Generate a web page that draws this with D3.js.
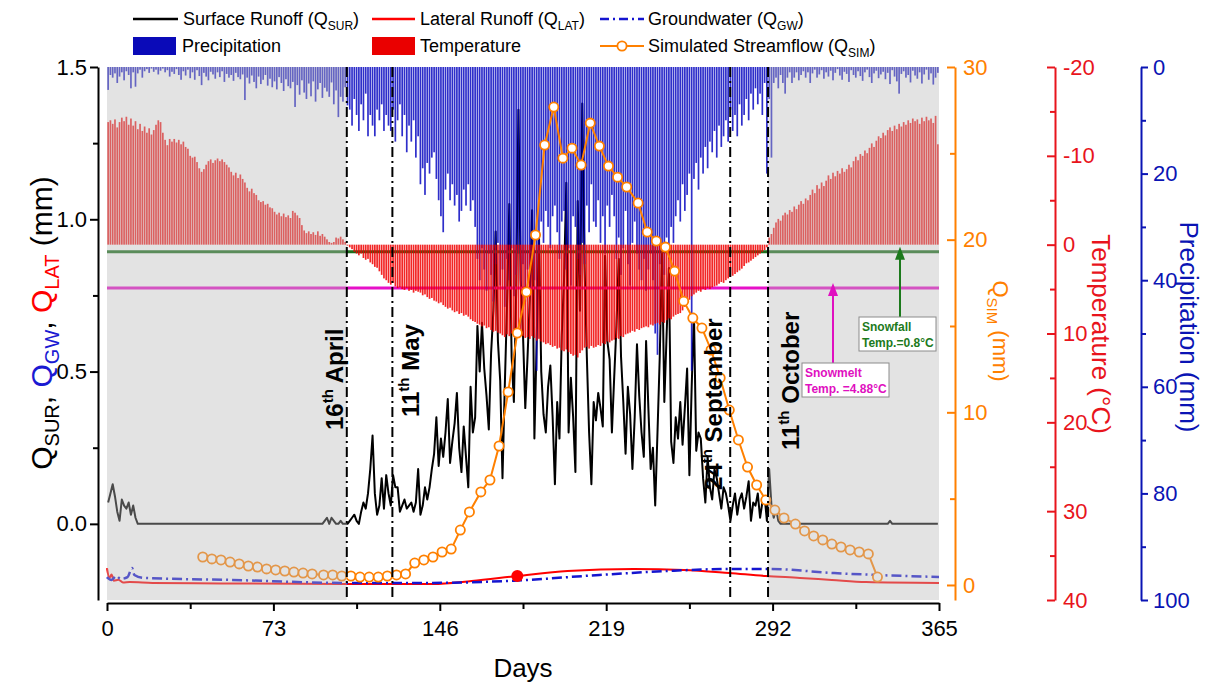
<!DOCTYPE html>
<html>
<head>
<meta charset="utf-8">
<script src="https://cdn.jsdelivr.net/npm/d3@7"></script>
<style>
  body { margin: 0; background: #fff; }
  svg { font-family: Arial, "Liberation Sans", sans-serif; }
</style>
</head>
<body>
<svg width="1213" height="686"></svg>
<script>
// ---- daily data (index 0 = day 1) ----
const precip = [
  4.3,1.5,2,1.2,3,1.8,1,2.5,0.8,1.5,4,
  1,3.7,1.2,0.5,2,0.8,0.4,1.1,0.3,0.9,
  0.5,1.4,0.7,0.3,1,0.6,1.8,0.9,1.3,0.4,
  1.5,2.4,0.8,1.6,0.5,2.1,1,2.4,0.6,1.7,
  3.4,1.1,1.8,2.5,0.9,1.4,2.2,1,1.9,0.8,
  2.8,1.3,2,1.5,2.6,1.1,1.9,2.3,1.4,6.2,
  2,3.1,1.6,2.8,4,1.8,3.2,2.4,1.5,3.5,
  2.2,3.8,2.7,4.2,1.9,3,4.5,2.3,3.6,4,
  2.8,7.5,3.4,5.2,2.5,4.8,6,3.1,5.5,2.7,
  6.5,4.2,3,5.8,3.9,4.6,5.6,2.9,7,4.4,
  9.4,5.6,6.5,3.8,7.2,
  8,11,6,9,12,7,10,5,13,9,11,13,8,10,7,12,9,11,12,8,14,10,7,13,9,16,11,14,10,17,13,
  22,19,24,18,20,17,16,21,25,28,31,23,20,25,22,26,24,29,27,23,26,22,27,25,30,
  36,40,34,38,42,35,39,44,37,33,
  41,38,45,36,40,34,43,39,35,41,
  37,44,38,42,36,40,57,35,29,33,
  27,30,34,28,26,31,36,29,27,38,
  34,41,28,30,36,39,33,37,26,31,
  22,29,30,25,33,28,35,26,30,24,
  28,36,32,39,34,27,37,41,33,29,
  35,38,40,36,42,38,35,40,50,54,
  37,34,39,32,36,30,33,28,25,29,
  22,27,24,20,57,21,18,23,17,20,
  15,19,14,16,12,17,11,15,13,10,
  14,8,12,9,13,7,11,9,6,10,
  5,8,4,7,5,9,3,20,6,
  17,3,2,4,1.5,3,5,2,1,3,
  2,1,2.5,1.5,0.8,2,1,3,1.2,0.5,
  2,1.4,0.6,2.2,1,1.8,0.7,2.5,1.1,0.4,
  1.6,2.4,0.9,1.3,2.8,0.6,1.5,2,0.8,1.7,
  2.6,1,0.5,1.9,3,1.2,0.7,2.1,1.4,0.9,
  2.3,1.1,3.2,0.6,1.8,2.7,5,1.3,0.8,2,
  1.5,2.9,0.7,1.6,2.2,1,3.1,1.4,0.5,2.4,
  1.2,3.3,2,1.1
];

const temperature = [
  -13.8,-14.0,-13.6,-14.1,-13.2,-13.8,-14.3,-13.9,-14.4,-13.5,
  -14.2,-13.4,-13.9,-13.0,-13.6,-12.8,-13.3,-12.6,-13.1,-12.4,
  -12.9,-13.5,-14.0,-13.8,-12.6,-11.8,-11.2,-11.9,-11.6,-11.9,
  -11.5,-11.8,-11.3,-11.6,-11.0,-10.8,-10.0,-9.8,-9.9,-9.3,
  -8.6,-8.2,-8.5,-9.0,-9.4,-9.6,-9.2,-9.5,-9.7,-9.4,
  -9.6,-9.3,-9.0,-8.7,-8.2,-7.8,-8.1,-7.5,-7.9,-7.4,
  -7.0,-6.4,-6.0,-6.3,-5.8,-5.6,-5.0,-4.8,-4.9,-4.5,
  -4.6,-4.2,-4.1,-3.7,-3.4,-3.6,-3.2,-3.5,-3.1,-3.3,
  -3.0,-3.8,-3.6,-3.3,-3.0,-2.2,-1.6,-1.3,-1.5,-1.2,
  -1.4,-1.1,-1.5,-1.0,-1.2,-0.9,-0.6,-0.3,-0.2,-0.3,
  -0.8,-0.7,-0.9,-0.6,-0.3,0.1,
  0.3,0.5,0.8,1.0,1.2,1.0,1.5,1.7,1.6,2.0,
  2.2,2.5,2.6,3.0,3.4,3.8,4.0,4.3,4.5,4.3,
  4.7,4.9,4.8,5.0,5.1,4.9,5.2,5.1,5.4,5.2,
  5.3,5.4,5.7,5.6,5.9,6.1,6.0,6.3,6.4,6.6,
  6.5,6.8,7.0,7.2,7.1,7.4,7.6,7.5,7.8,7.7,
  8.0,7.9,8.1,8.4,8.6,8.7,8.9,9.0,9.2,9.1,
  9.4,9.3,9.6,9.8,9.7,9.9,10.0,10.2,10.4,10.1,
  10.3,10.0,9.9,10.2,10.0,9.9,10.3,10.5,10.4,10.6,
  10.3,10.5,10.8,10.6,10.9,11.0,11.2,11.1,11.3,11.5,
  11.4,11.7,11.6,11.9,12.0,11.8,12.1,12.3,12.5,12.4,
  12.7,12.2,11.9,11.6,11.5,11.7,11.4,11.6,11.5,11.3,
  11.4,11.1,11.2,10.9,11.0,10.8,10.7,10.5,10.6,10.3,
  10.4,10.1,10.0,9.9,9.7,9.8,9.5,9.6,9.4,9.3,
  9.2,9.3,9.0,9.1,8.9,8.8,9.0,8.7,8.8,8.5,
  8.3,8.4,8.1,7.9,7.8,7.7,7.4,7.0,6.6,6.2,
  5.8,5.6,5.4,5.2,5.3,5.0,5.1,4.9,5.0,4.8,
  4.7,4.6,4.4,4.2,4.3,4.0,3.8,3.6,3.5,3.3,
  3.1,2.9,2.7,2.4,2.1,2.0,1.8,1.6,1.4,1.2,
  1.0,0.8,0.6,0.3,
  -0.8,-1.2,-1.9,-2.5,-2.9,-2.7,-3.3,-3.6,-3.4,-3.9,
  -3.7,-4.3,-4.0,-4.5,-4.9,-4.6,-5.2,-5.0,-5.6,-6.2,
  -5.8,-6.7,-6.3,-7.0,-6.6,-7.2,-7.8,-7.4,-8.1,-7.7,
  -8.3,-8.0,-8.6,-8.2,-8.5,-9.0,-8.7,-9.4,-9.9,-9.5,
  -10.2,-10.0,-10.6,-10.3,-10.9,-11.4,-11.0,-11.7,-12.2,-12.0,
  -12.6,-12.3,-12.9,-13.2,-12.8,-13.4,-13.0,-13.6,-13.3,-13.8,
  -13.5,-14.0,-13.7,-14.2,-13.9,-14.1,-13.6,-14.3,-13.9,-14.4,
  -14.0,-14.2,-13.7,-14.5,-11.3
];

const qSur = [
  0.07,0.10,0.13,0.09,0.04,0.01,0.08,0.06,0.05,0.07,0.03,0.06,0.02,
  0,0,0,0,0,0,0,0,0,0,
  0,0,0,0,0,0,0,0,0,0,
  0,0,0,0,0,0,0,0,0,0,
  0,0,0,0,0,0,0,0,0,0,
  0,0,0,0,0,0,0,0,0,0,
  0,0,0,0,0,0,0,0,0,0,
  0,0,0,0,0,0,0,0,0,0,
  0,0,0,0,0,0,0,0,0,0,
  0,0,
  0.01,0.02,0.00,0.02,0.01,0.00,0.00,0.01,0.00,0.00,0.00,
  0.01,0.02,0.03,0.01,0.00,0.04,0.07,0.05,0.10,0.18,0.29,0.10,0.03,0.06,0.15,0.05,
  0.16,0.10,0.06,0.16,0.12,0.12,0.04,0.06,0.08,0.05,0.06,0.07,0.04,0.07,0.18,
  0.03,0.06,0.12,0.08,0.12,0.18,0.23,0.35,0.19,0.28,0.22,0.30,0.41,0.20,0.27,0.33,
  0.43,0.25,0.17,0.32,0.22,0.12,0.45,0.30,0.35,0.65,0.50,0.66,0.51,0.42,0.31,0.56,
  0.70,0.96,0.60,0.47,0.15,0.45,0.72,1.05,0.55,0.40,0.76,1.36,0.80,0.62,0.38,0.55,
  0.74,1.03,0.28,0.60,0.95,0.50,0.36,0.30,0.45,0.52,0.35,0.13,0.40,0.28,0.62,0.80,
  1.12,0.30,0.48,0.35,0.17,1.06,0.70,1.38,0.85,0.55,0.30,0.13,0.40,0.34,0.43,0.38,
  0.32,0.88,0.60,0.54,0.30,0.48,0.65,0.87,0.55,0.40,0.23,0.45,0.36,0.18,0.35,0.59,
  0.42,0.30,0.22,0.60,0.38,0.18,0.25,0.06,0.30,0.55,0.89,0.40,0.62,0.84,0.27,0.20,
  0.35,0.28,0.40,0.26,0.38,0.51,0.16,0.45,0.69,0.24,0.30,0.28,0.15,0.07,0.22,0.12,
  0.08,0.18,0.15,0.10,0.05,0.12,0.10,0.06,0.01,0.06,0.10,0.03,0.08,0.10,0.05,0.09,
  0.14,0.01,0.07,0.06,0.10,0.02,0.07,0.09,0.01,0.18,
  0.06,0.02,0.05,0.01,
  0,0,0,0,0,0,0,0,0,0,
  0,0,0,0,0,0,0,0,0,0,
  0,0,0,0,0,0,0,0,0,0,
  0,0,0,0,0,0,0,0,0,0,
  0,0,0,0,0,0,0,0,0.01,0,
  0,0,0,0,0,0,0,0,0,0,
  0,0,0,0,0,0,0,0,0,0
];

// simulated streamflow (every ~4 days)
const qsimDays = [42,46,50,54,58,62,66,70,74,78,82,86,90,95,99,103,107,111,115,119,123,127,131,135,139,143,147,151,155,159,
  164,168,172,176,180,184,188,192,196,200,204,208,212,216,220,224,228,233,237,241,245,249,253,257,261,265,269,273,277,281,
  285,289,293,297,302,306,310,314,318,322,326,330,334,338];
const qsimVals = [1.62,1.51,1.45,1.33,1.22,1.10,1.04,0.93,0.87,0.81,0.75,0.69,0.64,0.58,0.58,0.52,0.52,0.46,0.46,0.46,
  0.52,0.58,0.64,1.27,1.45,1.62,1.91,2.08,3.18,4.23,5.39,6.08,8.05,11.18,14.59,16.97,20.27,25.48,27.68,24.72,
  25.30,24.32,26.75,25.42,24.26,23.62,23.05,22.12,20.44,19.92,19.57,18.18,16.44,15.46,14.88,13.61,11.99,10.13,8.40,6.83,
  5.79,4.92,4.34,3.88,3.53,3.13,2.84,2.61,2.37,2.20,2.03,1.91,1.80,0.46];

// lateral runoff and groundwater (mm)
const latDays = [0,1,2,3,5,7,10,20,50,105,143,160,180,202,231,253,273,289,304,318,333,365];
const latVals = [0.98,0.40,0.60,0.25,0.30,0.15,0.17,0.12,0.09,0.06,0.06,0.23,0.52,0.81,0.93,0.87,0.69,0.52,0.41,0.29,0.17,0.12];
const gwDays = [0,2,4,6,9,11,12,16,55,105,143,180,216,246,275,290,319,365];
const gwVals = [0.46,0.29,0.52,0.35,0.46,0.98,0.58,0.41,0.29,0.12,0.12,0.26,0.58,0.81,0.93,0.93,0.69,0.46];
const latMarker = { day: 180, value: 0.52 };

// events and thresholds
const eventDays = [105.2, 125.2, 273.4, 290.0];
const eventNum = ["16", "11", "24", "11"];
const eventMonth = ["April", "May", "September", "October"];
const winterRanges = [[0, 105.2], [290, 365]];
const snowfallTemp = 0.8;
const snowmeltTemp = 4.88;

const dayTicks = [0, 73, 146, 219, 292, 365];

// ---- scales ----
const svg = d3.select("svg");
const plotTop = 67, plotBottom = 600;
const x = d3.scaleLinear().domain([0, 365]).range([107, 939]);
const yL = d3.scaleLinear().domain([-0.25, 1.5]).range([plotBottom, plotTop]);
const yQ = d3.scaleLinear().domain([-0.87, 30]).range([plotBottom, plotTop]);
const yT = d3.scaleLinear().domain([-20, 40]).range([plotTop, plotBottom]);
const yP = d3.scaleLinear().domain([0, 100]).range([plotTop, plotBottom]);

const ORANGE = "#ff8000", TRED = "#e8141c", PBLUE = "#0a14b4";
const bw = 1.7;

const plot = svg.append("g");

// surface runoff (under the bars)
plot.append("path")
  .datum(qSur)
  .attr("d", d3.line().x((d, i) => x(i + 0.5)).y(d => yL(d)))
  .attr("fill", "none").attr("stroke", "#000").attr("stroke-width", 2)
  .attr("stroke-linejoin", "round");

// threshold lines
plot.append("line")
  .attr("x1", x(0)).attr("x2", x(365))
  .attr("y1", yT(snowfallTemp)).attr("y2", yT(snowfallTemp))
  .attr("stroke", "#1c6e1c").attr("stroke-width", 3);
plot.append("line")
  .attr("x1", x(0)).attr("x2", x(365))
  .attr("y1", yT(snowmeltTemp)).attr("y2", yT(snowmeltTemp))
  .attr("stroke", "#e610c8").attr("stroke-width", 3);

// precipitation bars (hanging from top)
plot.append("g").selectAll("rect").data(precip).join("rect")
  .attr("x", (d, i) => x(i + 0.5) - bw / 2).attr("width", bw)
  .attr("y", yP(0)).attr("height", d => yP(d) - yP(0))
  .attr("fill", "#0000be").attr("fill-opacity", 0.82);

// temperature bars (from 0 °C)
plot.append("g").selectAll("rect").data(temperature).join("rect")
  .attr("x", (d, i) => x(i + 0.5) - bw / 2).attr("width", bw)
  .attr("y", d => Math.min(yT(0), yT(d))).attr("height", d => Math.abs(yT(d) - yT(0)))
  .attr("fill", "#f00000").attr("fill-opacity", 0.85);

// lateral runoff & groundwater
plot.append("path")
  .datum(latDays.map((d, i) => [d, latVals[i]]))
  .attr("d", d3.line().x(d => x(d[0])).y(d => yQ(d[1])).curve(d3.curveMonotoneX))
  .attr("fill", "none").attr("stroke", "#ff0000").attr("stroke-width", 2);
plot.append("path")
  .datum(gwDays.map((d, i) => [d, gwVals[i]]))
  .attr("d", d3.line().x(d => x(d[0])).y(d => yQ(d[1])).curve(d3.curveMonotoneX))
  .attr("fill", "none").attr("stroke", "#1515d0").attr("stroke-width", 2.5)
  .attr("stroke-dasharray", "10,4,2,4");
plot.append("circle")
  .attr("cx", x(latMarker.day)).attr("cy", yQ(latMarker.value)).attr("r", 6)
  .attr("fill", "#ff0000");

// simulated streamflow
const qsim = qsimDays.map((d, i) => [d, qsimVals[i]]);
plot.append("path")
  .datum(qsim)
  .attr("d", d3.line().x(d => x(d[0])).y(d => yQ(d[1])))
  .attr("fill", "none").attr("stroke", ORANGE).attr("stroke-width", 2);
plot.append("g").selectAll("circle").data(qsim).join("circle")
  .attr("cx", d => x(d[0])).attr("cy", d => yQ(d[1])).attr("r", 4.6)
  .attr("fill", "#fff").attr("stroke", ORANGE).attr("stroke-width", 1.8);

// winter shading (semi-transparent grey veil)
plot.append("g").selectAll("rect").data(winterRanges).join("rect")
  .attr("x", d => x(d[0])).attr("width", d => x(d[1]) - x(d[0]))
  .attr("y", plotTop).attr("height", plotBottom - plotTop)
  .attr("fill", "#b8b8b8").attr("fill-opacity", 0.4);

// event lines
plot.append("g").selectAll("line").data(eventDays).join("line")
  .attr("x1", d => x(d)).attr("x2", d => x(d))
  .attr("y1", plotTop).attr("y2", plotBottom)
  .attr("stroke", "#000").attr("stroke-width", 2)
  .attr("stroke-dasharray", "10,4,2,4");

// event labels (rotated)
const labelPos = [
  { bx: -4, y: 430 },
  { bx: 27, y: 417 },
  { bx: -8, y: 490 },
  { bx: 31, y: 450 }
];
eventDays.forEach((d, i) => {
  const t = plot.append("text")
    .attr("transform", `translate(${x(d) + labelPos[i].bx},${labelPos[i].y}) rotate(-90)`)
    .attr("font-size", 24).attr("font-weight", "bold").attr("fill", "#000");
  t.append("tspan").text(eventNum[i]);
  t.append("tspan").attr("font-size", 15).attr("dy", -10).text("th");
  t.append("tspan").attr("dy", 10).text(" " + eventMonth[i]);
});

// annotations
function note(bx, by, w, h, color, lines, arrowX, tipY) {
  plot.append("line")
    .attr("x1", arrowX).attr("x2", arrowX).attr("y1", by).attr("y2", tipY + 10)
    .attr("stroke", color).attr("stroke-width", 2);
  plot.append("path")
    .attr("d", `M${arrowX},${tipY} L${arrowX - 5},${tipY + 13} L${arrowX + 5},${tipY + 13} Z`)
    .attr("fill", color);
  plot.append("rect")
    .attr("x", bx).attr("y", by).attr("width", w).attr("height", h)
    .attr("fill", "#fff").attr("stroke", "#8c8c8c").attr("stroke-width", 1);
  lines.forEach((s, i) => {
    plot.append("text")
      .attr("x", bx + 3).attr("y", by + 14 + i * 16)
      .attr("font-size", 12).attr("font-weight", "bold").attr("fill", color)
      .text(s);
  });
}
note(859, 317, 77, 34, "#1c7a1c", ["Snowfall", "Temp.=0.8°C"], 900, yT(snowfallTemp) - 5);
note(802, 363, 87, 34, "#e010c0", ["Snowmelt", "Temp. =4.88°C"], 833, yT(snowmeltTemp) - 5);

// ---- axes ----
function styleAxis(g, color) {
  g.selectAll("path").attr("stroke", color).attr("stroke-width", 2);
  g.selectAll("line").attr("stroke", color).attr("stroke-width", 2);
  g.selectAll("text").attr("fill", color).attr("font-size", 22)
    .attr("font-family", "Arial, 'Liberation Sans', sans-serif");
}
function minor(axis, vals, size, tx, ty, color) {
  const g = svg.append("g").attr("transform", `translate(${tx},${ty})`)
    .call(axis.tickValues(vals).tickSize(size).tickFormat(""));
  g.select(".domain").remove();
  g.selectAll("line").attr("stroke", color).attr("stroke-width", 2);
}

// left axis
const gl = svg.append("g").attr("transform", "translate(98,0)")
  .call(d3.axisLeft(yL).tickValues([0, 0.5, 1, 1.5]).tickFormat(d3.format(".1f"))
    .tickSize(8).tickSizeOuter(0).tickPadding(3));
styleAxis(gl, "#000");
minor(d3.axisLeft(yL), [0.25, 0.75, 1.25], 5, 98, 0, "#000");

// bottom axis
const gb = svg.append("g").attr("transform", "translate(0,603)")
  .call(d3.axisBottom(x).tickValues(dayTicks).tickSize(8).tickSizeOuter(0).tickPadding(9));
styleAxis(gb, "#000");
minor(d3.axisBottom(x), [36.5, 109.5, 182.5, 255.5, 328.5], 6, 0, 603, "#000");

// Q_SIM axis
const gq = svg.append("g").attr("transform", "translate(955,0)")
  .call(d3.axisRight(yQ).tickValues([0, 10, 20, 30]).tickSize(-8).tickSizeOuter(0).tickPadding(8));
styleAxis(gq, ORANGE);
minor(d3.axisRight(yQ), [5, 15, 25], -5, 955, 0, ORANGE);

// temperature axis (plain hyphen minus, as in the original)
const gt = svg.append("g").attr("transform", "translate(1055,0)")
  .call(d3.axisRight(yT).tickValues([-20, -10, 0, 10, 20, 30, 40]).tickFormat(d => String(d))
    .tickSize(-8).tickSizeOuter(0).tickPadding(8));
styleAxis(gt, TRED);
minor(d3.axisRight(yT), [-15, -5, 5, 15, 25, 35], -5, 1055, 0, TRED);

// precipitation axis
const gp = svg.append("g").attr("transform", "translate(1141,0)")
  .call(d3.axisRight(yP).tickValues([0, 20, 40, 60, 80, 100]).tickSize(7).tickSizeOuter(0).tickPadding(5));
styleAxis(gp, PBLUE);
minor(d3.axisRight(yP), [10, 30, 50, 70, 90], 5, 1141, 0, PBLUE);

// ---- axis titles ----
const lt = svg.append("text").attr("transform", "translate(52,323) rotate(-90)")
  .attr("text-anchor", "middle").attr("font-size", 30);
lt.append("tspan").attr("fill", "#000").text("Q");
lt.append("tspan").attr("fill", "#000").attr("font-size", 20).attr("dy", 7).text("SUR");
lt.append("tspan").attr("fill", "#000").attr("dy", -7).text(", ");
lt.append("tspan").attr("fill", "#1a1ad2").text("Q");
lt.append("tspan").attr("fill", "#1a1ad2").attr("font-size", 20).attr("dy", 7).text("GW");
lt.append("tspan").attr("fill", "#000").attr("dy", -7).text(", ");
lt.append("tspan").attr("fill", "#ff0000").text("Q");
lt.append("tspan").attr("fill", "#ff0000").attr("font-size", 20).attr("dy", 7).text("LAT");
lt.append("tspan").attr("fill", "#000").attr("dy", -7).text(" (mm)");

const qt = svg.append("text").attr("transform", "translate(993,331) rotate(90)")
  .attr("text-anchor", "middle").attr("font-size", 22).attr("fill", ORANGE);
qt.append("tspan").text("Q");
qt.append("tspan").attr("font-size", 15).attr("dy", 6).text("SIM");
qt.append("tspan").attr("dy", -6).text(" (mm)");

svg.append("text").attr("transform", "translate(1092,334) rotate(90)")
  .attr("text-anchor", "middle").attr("font-size", 26).attr("fill", TRED)
  .text("Temperature (°C)");
svg.append("text").attr("transform", "translate(1180,327) rotate(90)")
  .attr("text-anchor", "middle").attr("font-size", 26).attr("fill", PBLUE)
  .text("Precipitation (mm)");

svg.append("text").attr("x", 523).attr("y", 677).attr("text-anchor", "middle")
  .attr("font-size", 26).attr("fill", "#000").text("Days");

// ---- legend ----
const leg = svg.append("g").attr("font-size", 18);
function legText(xp, yp, main, sub) {
  const t = leg.append("text").attr("x", xp).attr("y", yp + 6).attr("fill", "#000");
  t.append("tspan").text(main);
  if (sub) {
    t.append("tspan").attr("font-size", 12).attr("dy", 5).text(sub);
    t.append("tspan").attr("dy", -5).text(")");
  }
}
leg.append("line").attr("x1", 133).attr("x2", 178).attr("y1", 19).attr("y2", 19)
  .attr("stroke", "#000").attr("stroke-width", 2.5);
legText(183, 19, "Surface Runoff (Q", "SUR");
leg.append("line").attr("x1", 372).attr("x2", 415).attr("y1", 19).attr("y2", 19)
  .attr("stroke", "#ff0000").attr("stroke-width", 2.5);
legText(420, 19, "Lateral Runoff (Q", "LAT");
leg.append("line").attr("x1", 600).attr("x2", 644).attr("y1", 19).attr("y2", 19)
  .attr("stroke", "#1515d0").attr("stroke-width", 2.5).attr("stroke-dasharray", "9,4,2,4");
legText(648, 19, "Groundwater (Q", "GW");

leg.append("rect").attr("x", 133).attr("y", 37).attr("width", 43).attr("height", 18)
  .attr("fill", "#0a0ab8");
legText(182, 46, "Precipitation");
leg.append("rect").attr("x", 372).attr("y", 37).attr("width", 43).attr("height", 18)
  .attr("fill", "#ea0000");
legText(420, 46, "Temperature");
leg.append("line").attr("x1", 600).attr("x2", 644).attr("y1", 46).attr("y2", 46)
  .attr("stroke", ORANGE).attr("stroke-width", 2);
leg.append("circle").attr("cx", 622).attr("cy", 46).attr("r", 4.6)
  .attr("fill", "#fff").attr("stroke", ORANGE).attr("stroke-width", 1.8);
legText(648, 46, "Simulated Streamflow (Q", "SIM");
</script>
</body>
</html>
